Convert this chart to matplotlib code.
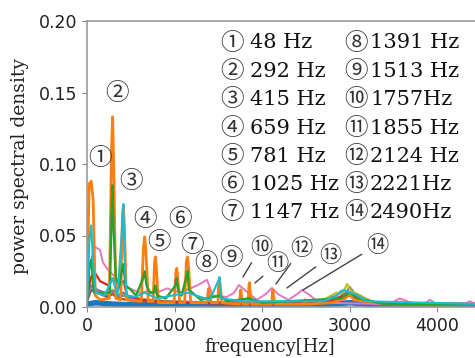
import matplotlib
matplotlib.use("Agg")
import matplotlib.pyplot as plt

W, H = 475, 358
SERIF = ['DejaVu Serif', 'Noto Sans CJK JP']
CIRC = ['Noto Sans CJK JP', 'DejaVu Sans']

# peak list shown in the legend block
marks = ['①', '②', '③', '④', '⑤', '⑥', '⑦', '⑧', '⑨', '⑩', '⑪', '⑫', '⑬', '⑭']
peak_text = ['48 Hz', '292 Hz', '415 Hz', '659 Hz', '781 Hz', '1025 Hz', '1147 Hz',
             '1391 Hz', '1513 Hz', '1757Hz', '1855 Hz', '2124 Hz', '2221Hz', '2490Hz']

# label positions in the plot (freq, psd)
label_x = [148, 342, 502, 662, 822, 1062, 1199, 1358, 1644, 1986, 2180, 2454, 2785, 3311]
label_y = [0.1035, 0.1496, 0.0881, 0.0615, 0.0454, 0.0615, 0.0433, 0.0301, 0.0336,
           0.0418, 0.0305, 0.0412, 0.0357, 0.0433]
# leader line ends for labels 10..14
lead_x = [1781, 1918, 2158, 2283, 2466]
lead_y = [0.0210, 0.0168, 0.0161, 0.0133, 0.0119]

# spectra: (frequency, psd)
blue_f = [0, 100, 300, 500, 1000, 2000, 2700, 3000, 3300, 4500]
blue_p = [0.002, 0.003, 0.002, 0.0015, 0.0015, 0.0012, 0.0015, 0.003, 0.0015, 0.0012]

gray_f = [0, 30, 60, 120, 200, 260, 300, 350, 420, 500, 580, 700, 850, 1000, 1500, 2650,
          2750, 2850, 2900, 2950, 3000, 3050, 3120, 3200, 3300, 4500]
gray_p = [0.005, 0.016, 0.014, 0.010, 0.009, 0.008, 0.012, 0.007, 0.008, 0.006, 0.006,
          0.005, 0.004, 0.004, 0.003, 0.003, 0.006, 0.008, 0.011, 0.009, 0.014, 0.010,
          0.008, 0.005, 0.003, 0.001]

olive_f = [0, 48, 100, 180, 260, 292, 350, 415, 480, 560, 700, 800, 1000, 1800, 2650,
           2760, 2850, 2920, 2970, 3020, 3080, 3150, 3250, 3350, 4500]
olive_p = [0.006, 0.020, 0.012, 0.010, 0.009, 0.012, 0.008, 0.010, 0.006, 0.007, 0.004,
           0.005, 0.003, 0.003, 0.003, 0.007, 0.010, 0.009, 0.016, 0.011, 0.009, 0.007,
           0.004, 0.002, 0.001]

brown_f = [0, 48, 100, 150, 230, 292, 360, 450, 550, 700, 1000, 2700, 2850, 2950, 3050,
           3150, 3300, 4500]
brown_p = [0.004, 0.012, 0.010, 0.009, 0.007, 0.009, 0.006, 0.005, 0.004, 0.004, 0.003,
           0.003, 0.006, 0.009, 0.007, 0.005, 0.002, 0.001]

purple_f = [0, 50, 120, 200, 292, 360, 415, 500, 600, 750, 1000, 2700, 2800, 2900, 2980,
            3060, 3150, 3250, 4500]
purple_p = [0.006, 0.015, 0.012, 0.010, 0.011, 0.008, 0.010, 0.006, 0.005, 0.004, 0.003,
            0.003, 0.007, 0.006, 0.011, 0.008, 0.006, 0.002, 0.001]

red_f = [0, 40, 80, 150, 250, 292, 350, 415, 460, 530, 600, 800, 1100, 2000, 2800, 2900,
         3000, 3100, 3200, 4500]
red_p = [0.008, 0.020, 0.025, 0.018, 0.015, 0.020, 0.012, 0.018, 0.008, 0.007, 0.005,
         0.004, 0.003, 0.002, 0.004, 0.007, 0.008, 0.006, 0.003, 0.001]

pink_f = [0, 60, 91, 148, 183, 228, 320, 457, 525, 600, 700, 800, 913, 1062, 1256, 1370,
          1438, 1598, 1680, 1735, 1800, 1940, 2040, 2112, 2180, 2300, 2400, 2454, 2530,
          2650, 3450, 3573, 3700, 3850, 3915, 4000, 4300, 4370, 4450, 4500]
pink_p = [0.020, 0.036, 0.042, 0.040, 0.031, 0.027, 0.021, 0.014, 0.012, 0.010, 0.011,
          0.010, 0.013, 0.010, 0.015, 0.019, 0.008, 0.007, 0.010, 0.0154, 0.012, 0.005,
          0.009, 0.0133, 0.009, 0.005, 0.009, 0.0119, 0.009, 0.003, 0.002, 0.006, 0.003,
          0.002, 0.005, 0.002, 0.002, 0.004, 0.002, 0.002]

orange_f = [0, 25, 48, 70, 95, 150, 255, 280, 292, 305, 330, 385, 405, 415, 428, 450,
            620, 645, 659, 672, 700, 755, 772, 781, 792, 815, 995, 1015, 1025, 1037, 1060,
            1115, 1135, 1147, 1160, 1185, 1370, 1385, 1391, 1400, 1420, 1495, 1505, 1513,
            1522, 1540, 1740, 1752, 1757, 1765, 1780, 1838, 1850, 1855, 1862, 1880, 2110,
            2120, 2124, 2130, 2150, 2480, 2490, 2500, 2800, 2950, 3000, 3050, 3300, 3600, 4500]
orange_p = [0.010, 0.086, 0.088, 0.075, 0.008, 0.005, 0.006, 0.110, 0.133, 0.100, 0.006,
            0.005, 0.065, 0.071, 0.055, 0.005, 0.004, 0.042, 0.049, 0.040, 0.004, 0.004,
            0.032, 0.035, 0.028, 0.003, 0.003, 0.024, 0.027, 0.020, 0.003, 0.003, 0.032,
            0.035, 0.028, 0.003, 0.003, 0.011, 0.013, 0.009, 0.003, 0.003, 0.018, 0.020,
            0.015, 0.003, 0.002, 0.010, 0.012, 0.008, 0.002, 0.002, 0.015, 0.017, 0.012,
            0.002, 0.002, 0.011, 0.012, 0.008, 0.002, 0.002, 0.005, 0.002, 0.003, 0.006,
            0.009, 0.005, 0.003, 0.002, 0.002]

green_f = [0, 30, 50, 80, 260, 285, 292, 300, 330, 370, 405, 415, 440, 500, 560, 640, 659,
           680, 720, 760, 781, 800, 900, 1010, 1025, 1040, 1080, 1130, 1147, 1165, 1300,
           1513, 1600, 1855, 2000, 2900, 3000, 3100, 3400, 4500]
green_p = [0.005, 0.030, 0.033, 0.010, 0.010, 0.075, 0.085, 0.060, 0.020, 0.015, 0.028,
           0.030, 0.015, 0.012, 0.008, 0.020, 0.025, 0.015, 0.010, 0.010, 0.015, 0.008,
           0.006, 0.015, 0.020, 0.012, 0.008, 0.020, 0.025, 0.012, 0.005, 0.008, 0.004,
           0.006, 0.003, 0.006, 0.010, 0.006, 0.002, 0.002]

teal_f = [0, 30, 48, 70, 100, 200, 292, 350, 405, 415, 425, 450, 550, 659, 800, 1147,
          1400, 1505, 1513, 1525, 1800, 2700, 2850, 2930, 3000, 3060, 3200, 4500]
teal_p = [0.005, 0.050, 0.057, 0.030, 0.010, 0.008, 0.020, 0.008, 0.060, 0.072, 0.040,
          0.008, 0.007, 0.010, 0.006, 0.010, 0.005, 0.019, 0.021, 0.006, 0.004, 0.004,
          0.008, 0.012, 0.010, 0.009, 0.004, 0.002]

series = [
    (blue_f, blue_p, '#1f77b4', 4.0),
    (gray_f, gray_p, '#7f7f7f', 1.6),
    (olive_f, olive_p, '#bcbd22', 1.6),
    (brown_f, brown_p, '#8c564b', 1.6),
    (purple_f, purple_p, '#9467bd', 1.6),
    (red_f, red_p, '#d62728', 1.6),
    (pink_f, pink_p, '#e377c2', 1.4),
    (orange_f, orange_p, '#ff7f0e', 2.0),
    (green_f, green_p, '#2ca02c', 1.7),
    (teal_f, teal_p, '#17becf', 1.5),
]

fig = plt.figure(figsize=(W / 100, H / 100), dpi=100)
ax = fig.add_axes([87 / W, 1 - 307 / H, 394 / W, 286 / H])

for f, p, c, lw in series:
    ax.plot(f, p, color=c, lw=lw)

ax.set_xlim(0, 4500)
ax.set_ylim(0, 0.20)
ax.set_xticks([0, 1000, 2000, 3000, 4000])
ax.set_yticks([0, 0.05, 0.10, 0.15, 0.20])
ax.set_yticklabels(['0.00', '0.05', '0.10', '0.15', '0.20'])
ax.tick_params(labelsize=12.5, color='#888888', labelcolor='#222222')
for s in ax.spines.values():
    s.set_color('#999999')
    s.set_linewidth(1.2)

# numbered labels in the plot
for i in range(len(marks)):
    if i < 9:
        ax.text(label_x[i], label_y[i], marks[i], family=CIRC, fontsize=17,
                ha='center', va='center', color='#333333')
    else:
        j = i - 9
        ax.annotate(marks[i], xy=(lead_x[j], lead_y[j]), xytext=(label_x[i], label_y[i]),
                    family=CIRC, fontsize=16, ha='center', va='center', color='#333333',
                    arrowprops=dict(arrowstyle='-', color='#444444', lw=1.0,
                                    shrinkA=1, shrinkB=0))

# legend block of peak frequencies
row_y = [43, 71.3, 99.6, 128, 156.3, 184.6, 213]
for i in range(len(marks)):
    col = i // 7
    r = i % 7
    gx = 220 if col == 0 else 344
    tx = 250 if col == 0 else 370
    fig.text(gx / W, 1 - row_y[r] / H, marks[i], family=CIRC, fontsize=17,
             ha='left', va='center', color='#333333')
    fig.text(tx / W, 1 - row_y[r] / H, peak_text[i], family=SERIF, fontsize=15,
             ha='left', va='center', color='#111111')

fig.text(270 / W, 1 - 347 / H, 'frequency[Hz]', family=SERIF, fontsize=13,
         ha='center', va='center', color='#222222')
fig.text(20 / W, 1 - 166 / H, 'power spectral density', family=SERIF, fontsize=13.5,
         rotation=90, ha='center', va='center', color='#222222')

fig.savefig('out.png', dpi=100)
